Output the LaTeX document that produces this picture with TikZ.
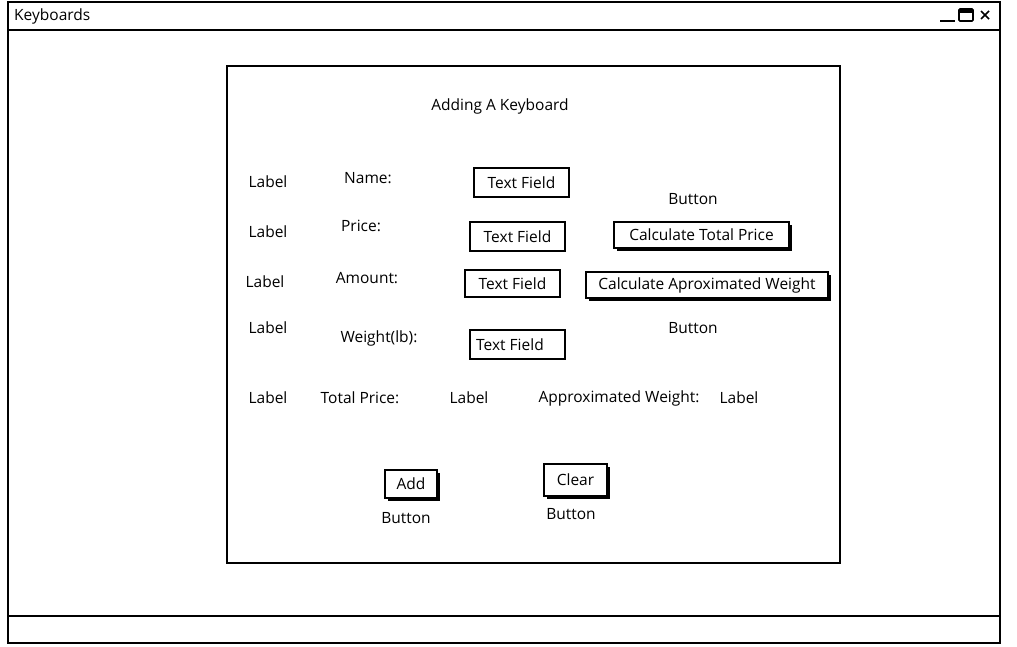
\documentclass[tikz,border=0pt]{standalone}
\usepackage{fontspec}
\setmainfont{Open Sans}
\usetikzlibrary{shadows}

\begin{document}
\begin{tikzpicture}[x = 1pt, y = -1pt]
\tikzstyle{TextStyle}=[inner sep = 0pt, font = \fontsize{15.5}{18}\selectfont]
\tikzstyle{FieldStyle}=[draw, line width = 2pt, fill = white,
                        inner sep = 0pt,
                        font = \fontsize{15.5}{18}\selectfont]
\tikzstyle{ButtonStyle}=[draw, line width = 1.8pt, fill = white,
                         inner sep = 0pt,
                         font = \fontsize{15.5}{18}\selectfont,
                         drop shadow = {shadow xshift = 3pt, shadow yshift = -3pt,
                                        fill = black, opacity = 1}]
\useasboundingbox (0,0) rectangle (1017,647);
% window frame
\draw[line width = 2.8pt] (8,2) rectangle (1000,643);
\draw[line width = 2.8pt] (8,30) -- (1000,30);
\draw[line width = 2.8pt] (8,616) -- (1000,616);
\node[TextStyle, anchor = west] (title) at (14,16) {Keyboards};
% window buttons
\draw[line width = 1.6pt] (940,21) -- (955,21);
\draw[line width = 1.6pt, rounded corners = 1pt] (959,9) rectangle (973,21);
\fill (959,9) rectangle (973,13);
\draw[line width = 1.6pt] (981,11) -- (989,19) (989,11) -- (981,19);
% panel
\draw[line width = 2.2pt] (227,66) rectangle (840,563);
\node[TextStyle] (heading) at (500,106) {Adding A Keyboard};
% labels on the left
\node[TextStyle] (lab1) at (268,182) {Label};
\node[TextStyle] (lab2) at (268,232) {Label};
\node[TextStyle] (lab3) at (265,282) {Label};
\node[TextStyle] (lab4) at (268,328) {Label};
\node[TextStyle] (lab5) at (268,398) {Label};
\node[TextStyle] (name) at (368,178) {Name:};
\node[TextStyle] (price) at (361,226) {Price:};
\node[TextStyle] (amount) at (367,278) {Amount:};
\node[TextStyle] (weight) at (379,338) {Weight(lb):};
% text fields
\node[FieldStyle, minimum width = 95pt, minimum height = 29pt] (tf1) at (521.5,182.5) {Text Field};
\node[FieldStyle, minimum width = 95pt, minimum height = 29pt] (tf2) at (517.5,236.5) {Text Field};
\node[FieldStyle, minimum width = 95pt, minimum height = 27pt] (tf3) at (512.5,283.5) {Text Field};
\node[FieldStyle, minimum width = 95pt, minimum height = 29pt] (tf4) at (517.5,344.5) {\hspace*{-15pt}Text Field};
% calculate buttons
\node[TextStyle] (btn1) at (693,199) {Button};
\node[ButtonStyle, minimum width = 175pt, minimum height = 26pt] (total) at (701.5,235) {Calculate Total Price};
\node[ButtonStyle, minimum width = 242pt, minimum height = 26pt] (approx) at (707,285) {Calculate Aproximated Weight};
\node[TextStyle] (btn2) at (693,328) {Button};
% results
\node[TextStyle] (totlab) at (360,398) {Total Price:};
\node[TextStyle] (totval) at (469,398) {Label};
\node[TextStyle] (wlab) at (619,398) {Approximated Weight:};
\node[TextStyle] (wval) at (739,398) {Label};
% add and clear
\node[ButtonStyle, minimum width = 52pt, minimum height = 28pt] (add) at (411,484) {Add};
\node[TextStyle] (btn3) at (406,518) {Button};
\node[ButtonStyle, minimum width = 63pt, minimum height = 32pt] (clear) at (575.5,480) {Clear};
\node[TextStyle] (btn4) at (571,514) {Button};
\end{tikzpicture}
\end{document}
